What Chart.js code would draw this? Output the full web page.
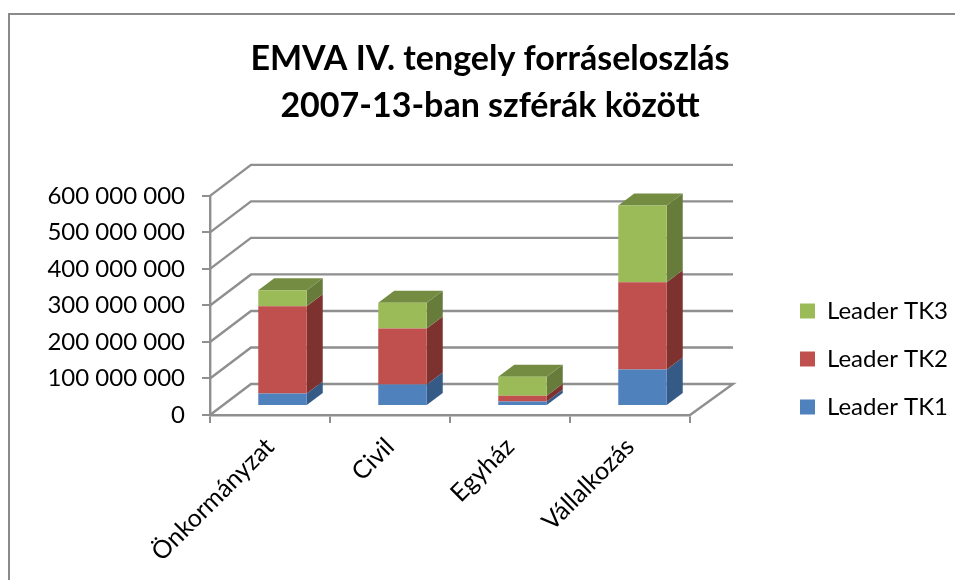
<!DOCTYPE html>
<html>
<head>
<meta charset="utf-8">
<style>html,body{margin:0;padding:0;background:#fff}#w{width:955px;height:580px;position:relative}</style>
<script src="https://cdn.jsdelivr.net/npm/chart.js@4"></script>
</head>
<body>
<div id="w"><canvas id="c" width="955" height="580"></canvas></div>
<script>
const categories = ['Önkormányzat', 'Civil', 'Egyház', 'Vállalkozás'];
const leaderTK1 = [34000000, 59000000, 12000000, 100000000];
const leaderTK2 = [239000000, 153000000, 16000000, 239000000];
const leaderTK3 = [44000000, 71000000, 52000000, 210000000];
const titleLines = ['EMVA IV. tengely forráseloszlás', '2007-13-ban szférák között'];

const FONT = 'Lato, Carlito, sans-serif';
const GRID = '#8f8f8f';
const sideColors = ['#355A86', '#7D3230', '#677C3A'];
const topColor = '#738C42';
const WALL = {dx: 41, dy: -31};
const BAR_SHIFT = {dx: 12.5, dy: -9};
const BAR_DEPTH = {dx: 16, dy: -12};

const box3d = {
  id: 'box3d',
  beforeLayout(chart) {
    const lg = chart.legend;
    if (lg && !lg._wrapped) {
      const f = lg.fit;
      lg.fit = function () { f.call(this); this.width = 265; };
      lg._wrapped = true;
    }
  },
  afterLayout(chart) {
    const lg = chart.legend, t = chart.titleBlock;
    lg.left = 776; lg.right = 955; lg.top = 273; lg.bottom = 445;
    t.left = 0; t.right = 980;
  },
  beforeDraw(chart) {
    const {ctx, scales: {x, y}, chartArea: a} = chart;
    ctx.save();
    ctx.strokeStyle = '#8a8a8a'; ctx.lineWidth = 2;
    ctx.beginPath(); ctx.moveTo(9, 580); ctx.lineTo(9, 14); ctx.lineTo(955, 14); ctx.stroke();
    ctx.strokeStyle = GRID; ctx.lineWidth = 2.4;
    y.ticks.forEach(t => {
      const py = y.getPixelForValue(t.value);
      ctx.beginPath();
      ctx.moveTo(a.left, py);
      ctx.lineTo(a.left + WALL.dx, py + WALL.dy);
      ctx.lineTo(a.right + WALL.dx + 2, py + WALL.dy);
      if (t.value === 0) ctx.lineTo(a.right, py);
      ctx.stroke();
    });
    ctx.restore();
  },
  beforeDatasetsDraw(chart) {
    const {ctx} = chart;
    ctx.save();
    ctx.translate(BAR_SHIFT.dx, BAR_SHIFT.dy);
    const n = chart.data.datasets.length;
    const d = BAR_DEPTH;
    for (let i = 0; i < n; i++) {
      chart.getDatasetMeta(i).data.forEach(b => {
        const r = b.x + b.width / 2, l = b.x - b.width / 2;
        ctx.fillStyle = sideColors[i];
        ctx.beginPath();
        ctx.moveTo(r, b.base); ctx.lineTo(r + d.dx, b.base + d.dy);
        ctx.lineTo(r + d.dx, b.y + d.dy); ctx.lineTo(r, b.y);
        ctx.closePath(); ctx.fill();
        if (i === n - 1) {
          ctx.fillStyle = topColor;
          ctx.beginPath();
          ctx.moveTo(l, b.y); ctx.lineTo(l + d.dx, b.y + d.dy);
          ctx.lineTo(r + d.dx, b.y + d.dy); ctx.lineTo(r, b.y);
          ctx.closePath(); ctx.fill();
        }
      });
    }
  },
  afterDatasetsDraw(chart) { chart.ctx.restore(); }
};

new Chart(document.getElementById('c'), {
  type: 'bar',
  plugins: [box3d],
  data: {
    labels: categories,
    datasets: [
      {label: 'Leader TK1', data: leaderTK1, backgroundColor: '#4F81BD', clip: false},
      {label: 'Leader TK2', data: leaderTK2, backgroundColor: '#C0504D', clip: false},
      {label: 'Leader TK3', data: leaderTK3, backgroundColor: '#9BBB59', clip: false}
    ]
  },
  options: {
    responsive: false,
    animation: false,
    events: [],
    layout: {padding: 0},
    categoryPercentage: 1,
    barPercentage: 0.404,
    plugins: {
      tooltip: {enabled: false},
      title: {
        display: true,
        text: titleLines,
        color: '#000',
        font: {family: FONT, size: 34, weight: 'bold', lineHeight: 1.38},
        padding: {top: 36, bottom: 66}
      },
      legend: {
        position: 'right',
        reverse: true,
        labels: {
          boxWidth: 15, boxHeight: 15, padding: 24, color: '#000',
          font: {family: FONT, size: 24}
        }
      }
    },
    scales: {
      x: {
        stacked: true,
        afterFit(s) { s.height = 165; },
        border: {color: GRID, width: 2.4},
        grid: {drawOnChartArea: false, drawTicks: true, tickLength: 8, color: GRID, lineWidth: 2},
        ticks: {minRotation: 45, maxRotation: 45, color: '#000', padding: 9, font: {family: FONT, size: 25}}
      },
      y: {
        stacked: true,
        min: 0, max: 600000000,
        afterFit(s) { s.width = 210; },
        border: {color: GRID, width: 2.4},
        grid: {drawOnChartArea: false, drawTicks: true, tickLength: 8, color: GRID, lineWidth: 2},
        ticks: {
          stepSize: 100000000, color: '#000', padding: 17,
          font: {family: FONT, size: 24},
          callback: v => String(v).replace(/\B(?=(\d{3})+$)/g, ' ')
        }
      }
    }
  }
});
</script>
</body>
</html>
